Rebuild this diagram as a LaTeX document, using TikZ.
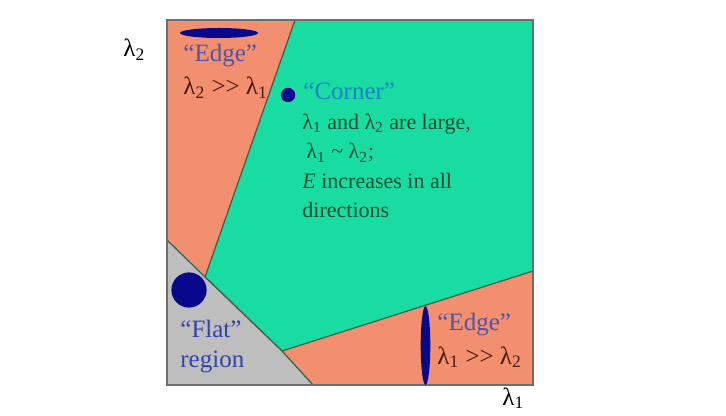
\documentclass[tikz,border=0pt]{standalone}
\usepackage{fontspec}
\setmainfont{Liberation Serif}
\usepackage{xcolor}
\usetikzlibrary{positioning}
\definecolor{edgeorange}{RGB}{242,143,110}
\definecolor{cornergreen}{RGB}{24,220,162}
\definecolor{flatgray}{RGB}{190,190,190}
\definecolor{blobblue}{RGB}{8,8,140}
\definecolor{seamline}{RGB}{55,95,75}
\definecolor{framegray}{RGB}{110,110,110}
\definecolor{edgetext}{RGB}{82,82,170}
\definecolor{cornertext}{RGB}{32,128,200}
\definecolor{bodytext}{RGB}{14,78,48}
\definecolor{ratiotext}{RGB}{72,26,14}
\definecolor{flattext}{RGB}{50,68,170}
\tikzset{
  seam/.style ={draw=seamline, line width=0.6pt},
  frame/.style={draw=framegray, line width=0.7pt},
  blob/.style ={fill=blobblue},
  lbl/.style  ={anchor=base west, inner sep=0pt, align=left,
                font=\fontsize{12.5}{15}\selectfont},
  body/.style ={lbl, font=\fontsize{11}{14.8}\selectfont}
}
\newcommand{\lam}[1]{λ\textsubscript{#1}}

\begin{document}
\begin{tikzpicture}[x=0.5pt, y=-0.5pt]
  \useasboundingbox (0,0) rectangle (726,416);

  % whole square is "edge" first
  \fill[edgeorange] (167,20) rectangle (533,385);
  % corner region
  \filldraw[seam, fill=cornergreen] (295,20) -- (533,20) -- (533,271)
    -- (282,351) -- (205,277) -- cycle;
  % flat region
  \filldraw[seam, fill=flatgray] (167,240) -- (205,277) -- (282,351)
    -- (313,385) -- (167,385) -- cycle;
  \draw[frame] (167,20) rectangle (533,385);

  % ellipses
  \fill[blob] (219,33) ellipse [x radius=19.5pt, y radius=2.5pt];
  \fill[blob] (288,95) circle [radius=3.6pt];
  \fill[blob] (189,290) circle [radius=8.8pt];
  \fill[blob] (425.5,345.5) ellipse [x radius=2.4pt, y radius=19.7pt];

  % axes
  \node[lbl] (lamtwo) at (123,57)  {\lam{2}};
  \node[lbl] (lamone) at (502,405) {\lam{1}};

  % labels (base of a multi-line node = its last line)
  \node[lbl, text=edgetext]   (edgetop) at (183,62) {“Edge”};
  \node[lbl, text=ratiotext]  (ratiotop) at (183,95) {\lam{2} >\kern0pt> \lam{1}};
  \node[lbl, text=cornertext] (corner) at (303,100) {“Corner”};
  \node[body, text=bodytext]  (cornerbody) at (302,218)
    {\lam{1} and \lam{2} are large,\\
     \hspace{2pt}\lam{1} \textasciitilde{} \lam{2};\\
     \textit{E} increases in all\\
     directions};
  \node[lbl, text=flattext]   (flat) at (180,367) {“Flat”\\region};
  \node[lbl, text=edgetext]   (edgebot) at (437,330) {“Edge”};
  \node[lbl, text=ratiotext]  (ratiobot) at (437,364) {\lam{1} >\kern0pt> \lam{2}};
\end{tikzpicture}
\end{document}
